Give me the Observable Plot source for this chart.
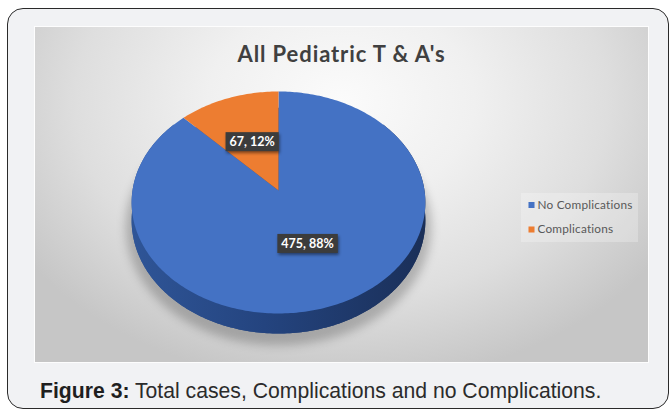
<!DOCTYPE html>
<html><head><meta charset="utf-8">
<script src="https://cdn.jsdelivr.net/npm/d3@7"></script>
<script src="https://cdn.jsdelivr.net/npm/@observablehq/plot@0.6"></script>
<style>
body{margin:0;background:#fff;width:671px;height:411px;overflow:hidden;position:relative;font-family:Lato,sans-serif}
#frame{position:absolute;left:7px;top:8px;width:662px;height:401px;box-sizing:border-box;border:1.5px solid #2a2a2a;border-radius:16px;background:#f1f2f4}
#chartbg{position:absolute;left:34px;top:26px;width:615px;height:337px;box-sizing:border-box;border:1.5px solid #fdfdfd;
 background:radial-gradient(ellipse 62% 85% at 50% 22%, #fbfbfb 0%, #f0f0f0 35%, #dedede 70%, #c6c6c6 100%)}
#title{position:absolute;left:35px;width:613px;top:43px;text-align:center;font:bold 22px/22px Lato,sans-serif;letter-spacing:0.9px;color:#404040}
#caption{position:absolute;left:40px;top:380px;font:21.2px/21.2px "Liberation Sans",Arial,sans-serif;color:#2b2b2b;white-space:nowrap}
#caption b{color:#1f1f1f}
#pie{position:absolute;left:0;top:0}
#legend{position:absolute;left:521px;top:193px;background:rgba(255,255,255,0.25)}
.shadow{filter:blur(5px)}
.pielabel rect{filter:drop-shadow(1px 2px 1.5px rgba(0,0,0,0.45))}
</style></head>
<body>
<div id="frame"></div>
<div id="chartbg"></div>
<div id="title"></div>
<div id="pie"></div>
<div id="legend"></div>
<div id="caption"></div>
<script>
// ---- data ----
const categories = ["No Complications", "Complications"];
const values = [475, 67];
const colors = ["#4472C4", "#ED7D31"];
const titleText = "All Pediatric T & A's";
const captionBold = "Figure 3:";
const captionText = " Total cases, Complications and no Complications.";

// ---- 3D perspective helpers ----
const K = 0.108, DEPTH = 0.163;
function proj(theta, r, d) {
  const u = r * Math.sin(theta), v = r * Math.cos(theta);
  const w = 1 + K * v;
  return {X: u / w, Y: (v - d) / w};
}
const deg = Math.PI / 180;
const total = d3.sum(values);
const arcs = d3.pie().sort(null).value(d => d)(values);

// top-face slices
const slicePts = arcs.flatMap((a, i) => {
  const pts = [{...proj(0, 0, 0), cat: categories[i]}];
  const n = Math.max(2, Math.ceil((a.endAngle - a.startAngle) / deg));
  for (let j = 0; j <= n; j++) {
    const t = a.startAngle + (a.endAngle - a.startAngle) * j / n;
    pts.push({...proj(t, 1, 0), cat: categories[i]});
  }
  return pts;
});
// bottom face
const bottomPts = d3.range(0, 361).map(t => proj(t * deg, 1, DEPTH));
// shadow
const shadowPts = d3.range(0, 361).map(t => proj(t * deg, 1.04, DEPTH + 0.05));
// side wall (front)
const sidePts = [];
for (let t = 50; t <= 310; t++) sidePts.push(proj(t * deg, 1, 0));
for (let t = 310; t >= 50; t--) sidePts.push(proj(t * deg, 1, DEPTH));
// labels
const labels = arcs.map((a, i) => {
  const mid = (a.startAngle + a.endAngle) / 2;
  return {...proj(mid, 0.5, 0), text: `${values[i]}, ${Math.round(values[i] / total * 100)}%`};
});

const defsMark = () => {
  const ns = "http://www.w3.org/2000/svg";
  const defs = document.createElementNS(ns, "defs");
  defs.innerHTML = `<linearGradient id="sideGrad" x1="0" x2="1" y1="0" y2="0">
    <stop offset="0" stop-color="#2f5597"/><stop offset="0.45" stop-color="#24447f"/>
    <stop offset="1" stop-color="#1a2f58"/></linearGradient>`;
  return defs;
};

const chart = Plot.plot({
  width: 671, height: 411, margin: 0,
  style: {background: "transparent", overflow: "visible"},
  x: {domain: [-1, 1], range: [132, 424], axis: null},
  y: {domain: [-1, 1], range: [299.7, 80.3], axis: null},
  color: {domain: categories, range: colors},
  marks: [
    defsMark,
    Plot.line(shadowPts, {x: "X", y: "Y", fill: "#000", fillOpacity: 0.22, stroke: "none", className: "shadow"}),
    Plot.line(bottomPts, {x: "X", y: "Y", fill: "url(#sideGrad)", stroke: "none"}),
    Plot.line(sidePts, {x: "X", y: "Y", fill: "url(#sideGrad)", stroke: "none"}),
    Plot.line(slicePts, {x: "X", y: "Y", z: "cat", fill: "cat", stroke: "none"}),
    Plot.text(labels, {x: "X", y: "Y", text: "text", fill: "white", fontWeight: "bold", fontSize: 12.5, fontFamily: "Lato, sans-serif", className: "pielabel"})
  ]
});
document.getElementById("pie").appendChild(chart);

// label boxes behind text
chart.querySelectorAll(".pielabel text").forEach(t => {
  const bb = t.getBBox();
  const r = document.createElementNS("http://www.w3.org/2000/svg", "rect");
  r.setAttribute("x", bb.x - 4); r.setAttribute("y", bb.y - 2);
  r.setAttribute("width", bb.width + 8); r.setAttribute("height", bb.height + 4);
  r.setAttribute("fill", "#3c3c3c");
  if (t.getAttribute("transform")) r.setAttribute("transform", t.getAttribute("transform"));
  t.parentNode.insertBefore(r, t);
});

// legend
const legend = Plot.plot({
  width: 117, height: 49, margin: 0,
  style: {background: "transparent"},
  x: {domain: [0, 1], range: [10, 16], axis: null},
  y: {domain: [0, 1], range: [11.5, 36], axis: null},
  color: {domain: categories, range: colors},
  marks: [
    Plot.dot(categories, {x: 0, y: (d, i) => i, symbol: "square", r: 3.4, fill: d => d, stroke: "none"}),
    Plot.text(categories, {x: 1, y: (d, i) => i, text: d => d, textAnchor: "start", fill: "#595959", fontSize: 11.8, fontFamily: "Lato, sans-serif", style: "letter-spacing:0.25px"})
  ]
});
document.getElementById("legend").appendChild(legend);
legend.querySelectorAll("text").forEach(t => t.style.letterSpacing = "0.2px");

document.getElementById("title").textContent = titleText;
const cap = document.getElementById("caption");
const b = document.createElement("b"); b.textContent = captionBold;
cap.appendChild(b); cap.appendChild(document.createTextNode(captionText));
</script>
</body></html>
